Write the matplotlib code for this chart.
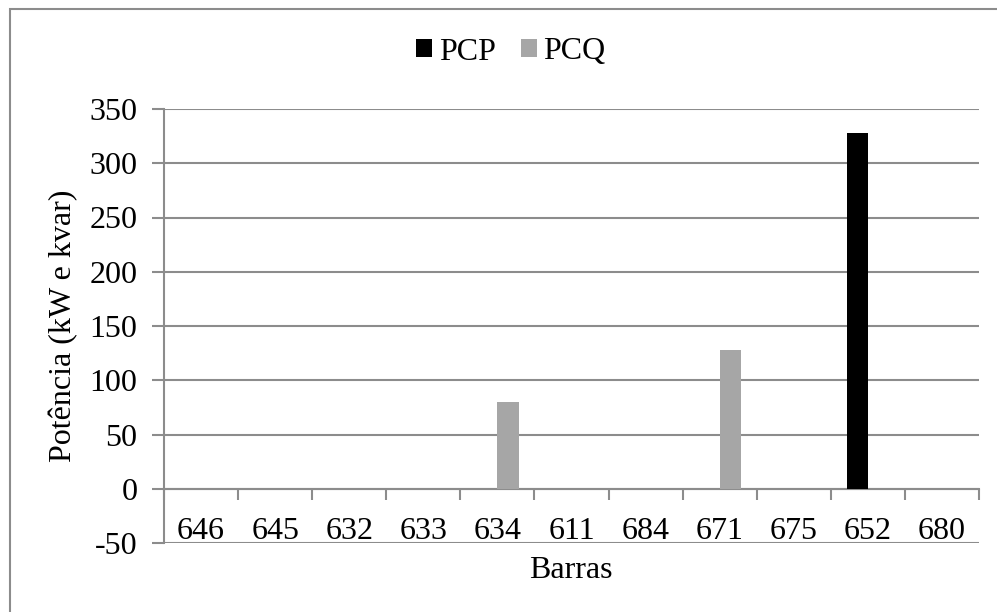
import matplotlib.pyplot as plt
import matplotlib.patches as patches
import numpy as np

plt.rcParams['font.family'] = ['Liberation Serif', 'DejaVu Serif']

barras = ['646', '645', '632', '633', '634', '611', '684', '671', '675', '652', '680']
pcp = [0, 0, 0, 0, 0, 0, 0, 0, 0, 328, 0]
pcq = [0, 0, 0, 0, 80, 0, 0, 128, 0, 0, 0]
yticks = [-50, 0, 50, 100, 150, 200, 250, 300, 350]

grid_color = '#8c8c8c'
fs = 23

fig = plt.figure(figsize=(9.97, 6.12), dpi=100)
W, H = 997, 612

# chart border (only top and left visible in the reference)
fig.add_artist(patches.Rectangle((10 / W, -0.1), 1.2, 1 - 9 / H + 0.1,
                                 transform=fig.transFigure, fill=False,
                                 edgecolor='#8c8c8c', linewidth=1.5))

ax = fig.add_axes([164 / W, 1 - 543 / H, (979 - 164) / W, (543 - 109) / H])

x = np.arange(len(barras))
w = 0.285
ax.bar(x - w / 2, pcp, w, color='black', label='PCP', zorder=3)
ax.bar(x + w / 2, pcq, w, color='#a6a6a6', label='PCQ', zorder=3)

ax.set_xlim(-0.5, len(barras) - 0.5)
ax.set_ylim(-50, 350)
ax.set_yticks(yticks)
ax.set_yticklabels([str(v) for v in yticks], fontsize=fs)
ax.tick_params(axis='y', direction='out', length=9, width=1.5, color=grid_color, pad=10)
ax.yaxis.grid(True, color=grid_color, linewidth=1.5, zorder=0)
ax.set_axisbelow(True)

for s in ['top', 'right']:
    ax.spines[s].set_visible(False)
ax.spines['left'].set_color(grid_color)
ax.spines['left'].set_linewidth(1.5)
ax.spines['bottom'].set_position(('data', 0))
ax.spines['bottom'].set_color(grid_color)
ax.spines['bottom'].set_linewidth(1.5)

ax.set_xticks(x)
ax.set_xticklabels(barras, fontsize=fs)
ax.set_xticks(np.arange(len(barras) + 1) - 0.5, minor=True)
ax.tick_params(axis='x', which='major', length=0, pad=20)
ax.tick_params(axis='x', which='minor', direction='out', length=8, width=1.5, color=grid_color)

ax.set_ylabel('Potência (kW e kvar)', fontsize=fs)
ax.yaxis.set_label_coords(-0.105, 0.5)
fig.text(571 / W, 1 - 570 / H, 'Barras', fontsize=fs, ha='center', va='center')

fig.legend(loc='center', bbox_to_anchor=(511 / W, 1 - 52 / H), ncol=2, frameon=False,
           fontsize=fs, handlelength=0.5, handleheight=0.5, handletextpad=0.2,
           columnspacing=0.8)

fig.savefig('out.png', dpi=100)
